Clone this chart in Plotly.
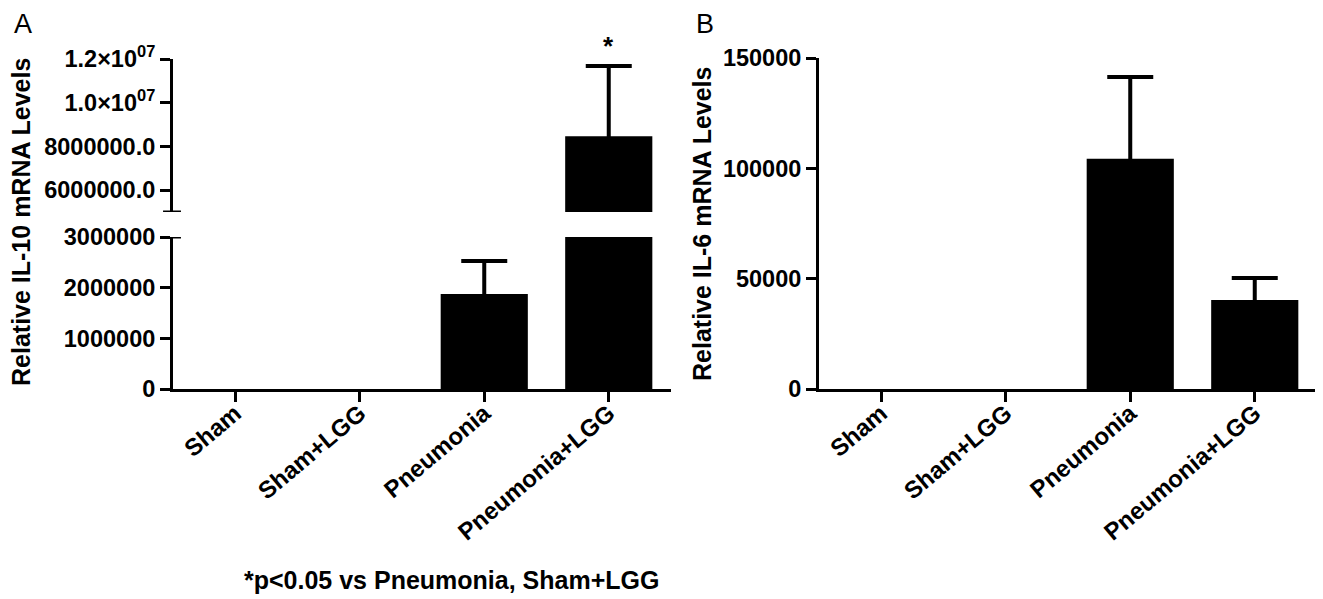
import plotly.graph_objects as go

# ---- data ----
categories = ["Sham", "Sham+LGG", "Pneumonia", "Pneumonia+LGG"]
il10_mean = [1.0, 1.0, 1875000, 8470000]
il10_sem = [None, None, 650000, 3210000]
il6_mean = [1.0, 1.0, 104300, 40300]
il6_sem = [None, None, 37100, 10000]

il10_low_ticks = [0, 1000000, 2000000, 3000000]
il10_low_text = ["0", "1000000", "2000000", "3000000"]
il10_high_ticks = [6000000, 8000000, 10000000, 12000000]
il10_high_text = ["6000000.0", "8000000.0", "1.0×10<sup>07</sup>", "1.2×10<sup>07</sup>"]
il6_ticks = [0, 50000, 100000, 150000]
il6_text = ["0", "50000", "100000", "150000"]

FONT = "Liberation Sans, Arial, sans-serif"
OFF = 8                      # page body margin of the html
W, H = 1323 - OFF, 599 - OFF


def px_x(p):
    return (p - OFF) / W


def px_y(p):
    return 1 - (p - OFF) / H


def with_err(means, sems):
    xs, ys, es = [], [], []
    for c, m, s in zip(categories, means, sems):
        if s is not None:
            xs.append(c)
            ys.append(m)
            es.append(s)
    return xs, ys, es


err_style = dict(type="data", symmetric=True, thickness=4, width=23, color="black")
bar_style = dict(marker=dict(color="black", line=dict(width=0)), width=0.7,
                 showlegend=False, hoverinfo="skip")

fig = go.Figure()


def add_panel(means, sems, xa, ya):
    fig.add_trace(go.Bar(x=categories, y=means, xaxis=xa, yaxis=ya, **bar_style))
    ex, ey, ee = with_err(means, sems)
    fig.add_trace(go.Scatter(
        x=ex, y=ey, xaxis=xa, yaxis=ya, mode="markers",
        marker=dict(size=1, color="black"),
        error_y=dict(array=ee, **err_style), showlegend=False, hoverinfo="skip",
    ))


add_panel(il10_mean, il10_sem, "x", "y")    # panel A lower segment
add_panel(il10_mean, il10_sem, "x", "y2")   # panel A upper segment
add_panel(il6_mean, il6_sem, "x2", "y3")    # panel B

tickfont_y = dict(family=FONT, size=23.5, color="black", weight="bold")
tickfont_x = dict(family=FONT, size=24, color="black", weight="bold")

common_y = dict(showline=True, linewidth=3, linecolor="black", ticks="outside",
                ticklen=10, tickwidth=3, tickcolor="black", showgrid=False,
                zeroline=False, tickfont=tickfont_y, fixedrange=True,
                automargin=False)
common_x = dict(showline=True, linewidth=3, linecolor="black", ticks="outside",
                ticklen=10, tickwidth=3, tickcolor="black", showgrid=False,
                zeroline=False, tickfont=tickfont_x, tickangle=-40,
                range=[-0.5, 3.5], categoryorder="array", categoryarray=categories,
                automargin=False, ticklabelstandoff=-12)

fig.update_layout(
    template="none",
    width=W, height=H,
    margin=dict(l=0, r=0, t=0, b=0, pad=0),
    paper_bgcolor="white", plot_bgcolor="white",
    showlegend=False,
    xaxis=dict(domain=[px_x(173), px_x(671)], anchor="y", **common_x),
    yaxis=dict(domain=[px_y(389), px_y(237)], anchor="x", range=[0, 3000000],
               tickvals=il10_low_ticks, ticktext=il10_low_text, **common_y),
    yaxis2=dict(domain=[px_y(212), px_y(59)], anchor="x", range=[5000000, 12000000],
                tickvals=il10_high_ticks, ticktext=il10_high_text, **common_y),
    xaxis2=dict(domain=[px_x(819), px_x(1317)], anchor="y3", **common_x),
    yaxis3=dict(domain=[px_y(389), px_y(58)], anchor="x2", range=[0, 150000],
                tickvals=il6_ticks, ticktext=il6_text, **common_y),
)

# axis break caps
fig.add_shape(type="line", xref="x domain", yref="y2", x0=-0.02, x1=0.016,
              y0=5000000, y1=5000000, line=dict(color="black", width=3))
fig.add_shape(type="line", xref="x domain", yref="y", x0=0, x1=0.016,
              y0=3000000, y1=3000000, line=dict(color="black", width=3))

annots = [
    dict(text="A", x=px_x(23), y=px_y(24), xref="paper", yref="paper",
         showarrow=False, font=dict(family=FONT, size=27, color="black"),
         xanchor="center", yanchor="middle"),
    dict(text="B", x=px_x(705), y=px_y(24), xref="paper", yref="paper",
         showarrow=False, font=dict(family=FONT, size=27, color="black"),
         xanchor="center", yanchor="middle"),
    dict(text="Relative IL-10 mRNA Levels", x=px_x(21), y=px_y(222),
         xref="paper", yref="paper", textangle=-90, showarrow=False,
         font=dict(family=FONT, size=25, color="black", weight="bold"),
         xanchor="center", yanchor="middle"),
    dict(text="Relative IL-6 mRNA Levels", x=px_x(702), y=px_y(224),
         xref="paper", yref="paper", textangle=-90, showarrow=False,
         font=dict(family=FONT, size=25, color="black", weight="bold"),
         xanchor="center", yanchor="middle"),
    dict(text="*p<0.05 vs Pneumonia, Sham+LGG", x=px_x(451), y=px_y(580),
         xref="paper", yref="paper", showarrow=False,
         font=dict(family=FONT, size=25, color="black", weight="bold"),
         xanchor="center", yanchor="middle"),
    dict(text="*", x=categories[3], y=il10_mean[3] + il10_sem[3], xref="x", yref="y2",
         showarrow=False, yanchor="middle", yshift=20,
         font=dict(family=FONT, size=26, color="black", weight="bold")),
]
fig.update_layout(annotations=annots)

fig.write_html("out.html")
